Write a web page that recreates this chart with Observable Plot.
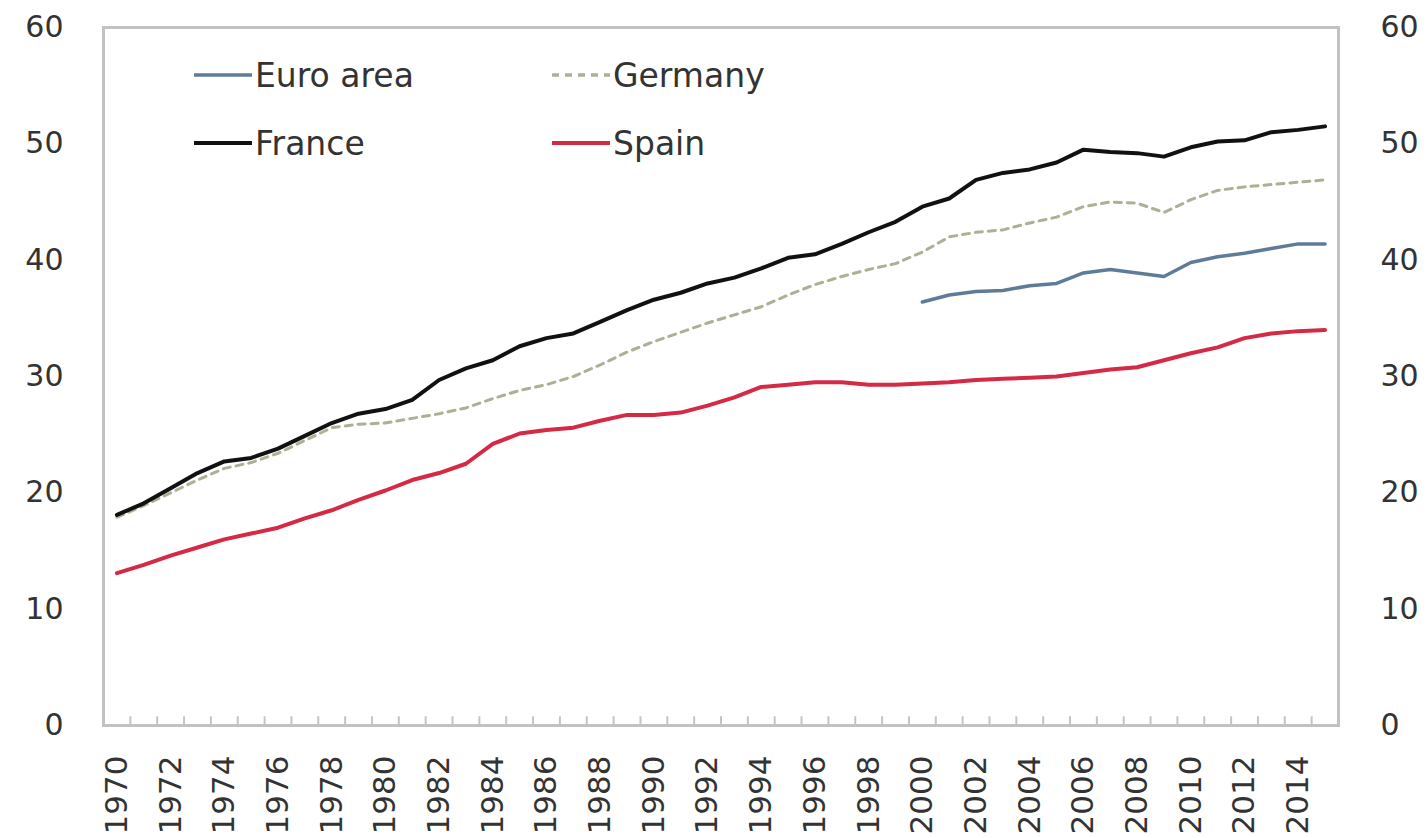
<!DOCTYPE html>
<html>
<head>
<meta charset="utf-8">
<script src="https://cdn.jsdelivr.net/npm/d3@7"></script>
<script src="https://cdn.jsdelivr.net/npm/@observablehq/plot@0.6"></script>
<style>
  html, body { margin: 0; padding: 0; background: #fff; }
  #wrap { position: relative; width: 1428px; height: 838px; overflow: hidden; }
  .leg { position: absolute; font-family: "DejaVu Sans", sans-serif; font-size: 33px; color: #333; display: flex; align-items: center; white-space: nowrap; }
  .leg svg { margin-right: 3px; }
</style>
</head>
<body>
<div id="wrap"></div>
<script>
const years = d3.range(1970, 2016);
const yTicks = [0, 10, 20, 30, 40, 50, 60];
const xLabelYears = d3.range(1970, 2015, 2);

const france = [18.1, 19.1, 20.4, 21.7, 22.7, 23.0, 23.8, 24.9, 26.0, 26.8,
  27.2, 28.0, 29.7, 30.7, 31.4, 32.6, 33.3, 33.7, 34.7, 35.7,
  36.6, 37.2, 38.0, 38.5, 39.3, 40.2, 40.5, 41.4, 42.4, 43.3,
  44.6, 45.3, 46.9, 47.5, 47.8, 48.4, 49.5, 49.3, 49.2, 48.9,
  49.7, 50.2, 50.3, 51.0, 51.2, 51.5];
const germany = [17.9, 18.9, 20.0, 21.1, 22.1, 22.6, 23.4, 24.5, 25.6, 25.9,
  26.0, 26.4, 26.8, 27.3, 28.1, 28.8, 29.3, 30.0, 31.0, 32.1,
  33.0, 33.8, 34.6, 35.3, 36.0, 37.0, 37.9, 38.6, 39.2, 39.7,
  40.7, 42.0, 42.4, 42.6, 43.2, 43.7, 44.6, 45.0, 44.9, 44.1,
  45.2, 46.0, 46.3, 46.5, 46.7, 46.9];
const spain = [13.1, 13.8, 14.6, 15.3, 16.0, 16.5, 17.0, 17.8, 18.5, 19.4,
  20.2, 21.1, 21.7, 22.5, 24.2, 25.1, 25.4, 25.6, 26.2, 26.7,
  26.7, 26.9, 27.5, 28.2, 29.1, 29.3, 29.5, 29.5, 29.3, 29.3,
  29.4, 29.5, 29.7, 29.8, 29.9, 30.0, 30.3, 30.6, 30.8, 31.4,
  32.0, 32.5, 33.3, 33.7, 33.9, 34.0];
const euroYears = d3.range(2000, 2016);
const euroArea = [36.4, 37.0, 37.3, 37.4, 37.8, 38.0, 38.9, 39.2, 38.9, 38.6,
  39.8, 40.3, 40.6, 41.0, 41.4, 41.4];

const seriesNames = ["Euro area", "Germany", "France", "Spain"];
const seriesColors = ["#5e7c99", "#adb094", "#111111", "#d42a45"];

const rows = (ys, vs, name) => ys.map((y, i) => ({year: y, value: vs[i], series: name}));
const eu = rows(euroYears, euroArea, "Euro area");
const de = rows(years, germany, "Germany");
const fr = rows(years, france, "France");
const es = rows(years, spain, "Spain");

const txt = "#333";
const boundaries = d3.range(1969.5, 2016, 1);

const chart = Plot.plot({
  width: 1428,
  height: 838,
  marginLeft: 103,
  marginRight: 90,
  marginTop: 27,
  marginBottom: 113,
  style: {fontFamily: "'DejaVu Sans', sans-serif", fontSize: "30px", color: txt, background: "#fff"},
  x: {domain: [1969.5, 2015.5], label: null},
  y: {domain: [0, 60], label: null},
  marks: [
    Plot.ruleX(boundaries, {x: d => d, y1: 0, y2: 0.75, stroke: "#c4c4c4", strokeWidth: 2}),
    Plot.frame({stroke: "#c2c2c2", strokeWidth: 3}),
    Plot.axisY({anchor: "left", ticks: yTicks, tickSize: 0, tickPadding: 40, tickFormat: d => String(d), fontSize: 30, fill: txt, label: null}),
    Plot.axisY({anchor: "right", ticks: yTicks, tickSize: 0, tickPadding: 42, tickFormat: d => String(d), fontSize: 30, fill: txt, label: null}),
    Plot.axisX({ticks: xLabelYears, tickSize: 0, tickRotate: -90, tickPadding: 30, tickFormat: d => String(d), fontSize: 31, fill: txt, label: null}),
    Plot.line(de, {x: "year", y: "value", stroke: seriesColors[1], strokeWidth: 3, strokeDasharray: "7,6"}),
    Plot.line(eu, {x: "year", y: "value", stroke: seriesColors[0], strokeWidth: 3.5}),
    Plot.line(es, {x: "year", y: "value", stroke: seriesColors[3], strokeWidth: 4}),
    Plot.line(fr, {x: "year", y: "value", stroke: seriesColors[2], strokeWidth: 4})
  ]
});

const wrap = document.getElementById("wrap");
wrap.appendChild(chart);

// legend overlay (2 x 2 grid inside plot area)
const legendPos = {
  "Euro area": [194, 75],
  "France": [194, 143],
  "Germany": [552, 75],
  "Spain": [552, 143]
};
seriesNames.forEach((name, i) => {
  const [lx, ly] = legendPos[name];
  const div = document.createElement("div");
  div.className = "leg";
  div.style.left = lx + "px";
  div.style.top = (ly - 20) + "px";
  div.style.height = "40px";
  const dash = name === "Germany" ? 'stroke-dasharray="7,6"' : "";
  const sw = name === "Euro area" || name === "Germany" ? 3.5 : 4;
  div.innerHTML = `<svg width="58" height="10"><line x1="0" y1="5" x2="58" y2="5" stroke="${seriesColors[i]}" stroke-width="${sw}" ${dash}/></svg><span>${name}</span>`;
  wrap.appendChild(div);
});
</script>
</body>
</html>
